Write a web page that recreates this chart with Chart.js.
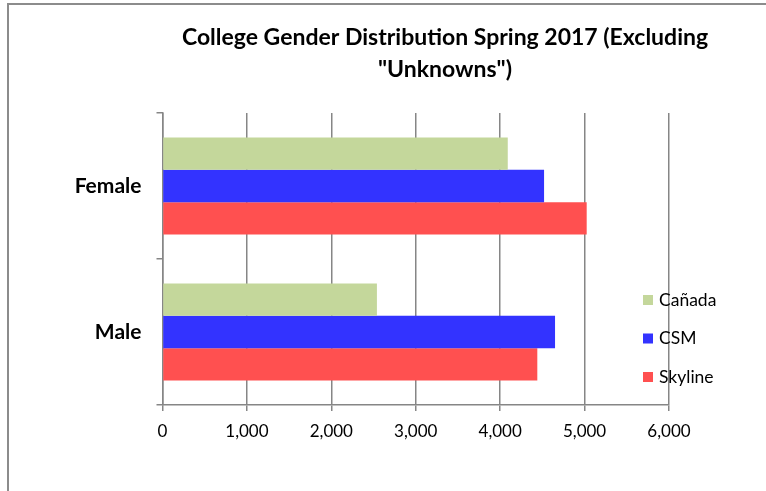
<!DOCTYPE html>
<html>
<head>
<meta charset="utf-8">
<script src="https://cdn.jsdelivr.net/npm/chart.js@4/dist/chart.umd.min.js"></script>
<style>
  html, body { margin: 0; padding: 0; background: #fff; }
  canvas { display: block; }
</style>
</head>
<body>
<canvas id="genderChart" width="766" height="491"></canvas>
<script>
// ── data ────────────────────────────────────────────────
const categories = ['Female', 'Male'];
const canada   = [4090, 2540];
const csm      = [4520, 4650];
const skyline  = [5025, 4440];
const titleLines = ['College Gender Distribution Spring 2017 (Excluding', '"Unknowns")'];

const FONT = 'Lato, "Open Sans", sans-serif';
const GRID = '#868686';

// ── frame, title and legend drawn by hand (Excel style) ─
const excelDecor = {
  id: 'excelDecor',
  beforeDraw(chart) {
    const ctx = chart.ctx;
    ctx.save();
    ctx.strokeStyle = '#8c8c8c';
    ctx.lineWidth = 2;
    ctx.beginPath();
    ctx.moveTo(8, chart.height);
    ctx.lineTo(8, 4);
    ctx.lineTo(chart.width, 4);
    ctx.stroke();
    ctx.restore();
  },
  afterDraw(chart) {
    const ctx = chart.ctx;
    ctx.save();
    ctx.fillStyle = '#000';
    ctx.textAlign = 'center';
    ctx.textBaseline = 'middle';
    ctx.font = 'bold 23px ' + FONT;
    titleLines.forEach((t, i) => ctx.fillText(t, 445, 38 + i * 32));

    ctx.textAlign = 'left';
    ctx.font = '17.5px ' + FONT;
    chart.data.datasets.forEach((ds, i) => {
      const y = 300 + i * 38.5;
      ctx.fillStyle = ds.backgroundColor;
      ctx.fillRect(643, y - 5, 10, 10);
      ctx.fillStyle = '#000';
      ctx.fillText(ds.label, 659, y);
    });
    ctx.restore();
  }
};

new Chart(document.getElementById('genderChart'), {
  type: 'bar',
  data: {
    labels: categories,
    datasets: [
      { label: 'Cañada',  data: canada,  backgroundColor: '#C4D79B' },
      { label: 'CSM',     data: csm,     backgroundColor: '#3333FF' },
      { label: 'Skyline', data: skyline, backgroundColor: '#FF5050' }
    ]
  },
  options: {
    indexAxis: 'y',
    responsive: false,
    animation: false,
    categoryPercentage: 0.665,
    barPercentage: 1.0,
    layout: { padding: { left: 0, top: 113, right: 97, bottom: 46 } },
    plugins: {
      legend: { display: false },
      title: { display: false },
      tooltip: { enabled: false }
    },
    scales: {
      x: {
        min: 0, max: 6000,
        ticks: {
          stepSize: 1000,
          padding: 10,
          color: '#000',
          font: { family: FONT, size: 17 },
          callback: v => v.toLocaleString('en-US')
        },
        grid: { color: GRID, lineWidth: 1.5, tickLength: 6 },
        border: { color: GRID, width: 1.5 },
        afterFit: s => { s.height = 40; }
      },
      y: {
        ticks: {
          padding: 15,
          color: '#000',
          font: { family: FONT, size: 21, weight: 'bold' }
        },
        grid: { drawOnChartArea: false, color: GRID, lineWidth: 1.5, tickLength: 6 },
        border: { color: GRID, width: 1.5 },
        afterFit: s => { s.width = 162.5; }
      }
    }
  },
  plugins: [excelDecor]
});
</script>
</body>
</html>
